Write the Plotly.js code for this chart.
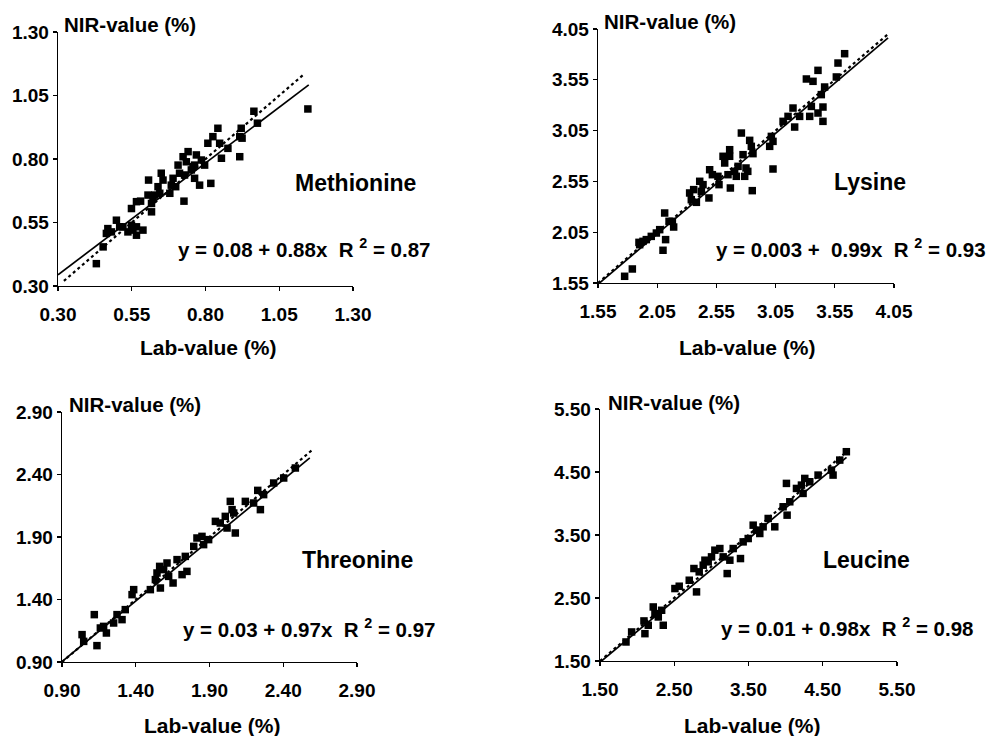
<!DOCTYPE html>
<html>
<head>
<meta charset="utf-8">
<script src="https://cdn.plot.ly/plotly-3.0.1.min.js"></script>
<style>html,body{margin:0;padding:0;background:#fff;}#chart{width:995px;height:736px;}</style>
</head>
<body>
<div id="chart"></div>
<script>
// ---- Data ----
var metLab = [1.147,0.964,0.976,0.921,0.916,0.842,0.825,0.848,0.808,0.916,0.876,0.854,0.818,0.741,0.769,0.786,0.763,0.797,0.724,0.707,0.712,0.729,0.752,0.780,0.763,0.690,0.684,0.727,0.679,0.650,0.656,0.607,0.639,0.628,0.617,0.645,0.617,0.580,0.566,0.549,0.588,0.566,0.554,0.537,0.520,0.498,0.549,0.469,0.481,0.464,0.453,0.430,0.566,0.509,0.924,0.735,0.758,0.699,0.622,0.605];
var metNir = [0.997,0.988,0.941,0.921,0.888,0.921,0.888,0.862,0.862,0.809,0.842,0.803,0.704,0.829,0.816,0.796,0.776,0.776,0.809,0.776,0.744,0.737,0.757,0.697,0.724,0.724,0.697,0.634,0.665,0.744,0.717,0.717,0.691,0.658,0.625,0.665,0.592,0.634,0.632,0.605,0.520,0.500,0.520,0.513,0.533,0.559,0.539,0.526,0.513,0.507,0.454,0.388,0.533,0.533,0.882,0.789,0.770,0.691,0.645,0.658];

var lysLab = [1.775,1.840,1.902,1.930,1.958,1.896,2.000,2.043,2.071,2.099,2.121,2.113,2.150,2.189,2.178,2.324,2.358,2.338,2.381,2.409,2.437,2.423,2.487,2.493,2.516,2.563,2.572,2.606,2.620,2.662,2.662,2.668,2.648,2.704,2.733,2.761,2.775,2.789,2.800,2.815,2.831,2.845,2.859,2.853,2.718,3.014,3.028,3.028,3.000,3.113,3.155,3.197,3.211,3.253,3.310,3.352,3.338,3.366,3.408,3.436,3.450,3.450,3.464,3.563,3.577,3.633,3.408];
var lysNir = [1.616,1.688,1.927,1.960,1.977,1.950,2.009,2.042,2.075,1.872,1.977,2.239,2.157,2.101,2.157,2.436,2.469,2.370,2.344,2.551,2.518,2.452,2.387,2.665,2.616,2.600,2.518,2.797,2.731,2.862,2.797,2.485,2.616,2.649,2.698,3.026,2.813,2.600,2.682,2.649,2.954,2.895,2.823,2.459,2.600,2.993,2.944,2.672,2.895,3.141,3.190,3.272,3.085,3.190,3.558,3.288,3.190,3.535,3.643,3.404,3.141,3.282,3.479,3.578,3.715,3.807,3.223];

var thrLab = [1.036,1.047,1.119,1.137,1.160,1.182,1.201,1.250,1.273,1.307,1.329,1.386,1.375,1.499,1.533,1.544,1.567,1.589,1.612,1.623,1.653,1.680,1.714,1.736,1.793,1.815,1.849,1.860,1.894,1.940,1.973,2.007,2.041,2.019,2.064,2.075,2.053,2.143,2.199,2.245,2.227,2.267,2.335,2.403,2.482,1.747,1.562];
var thrNir = [1.119,1.065,1.279,1.031,1.172,1.185,1.132,1.212,1.279,1.239,1.319,1.479,1.439,1.479,1.559,1.612,1.492,1.639,1.692,1.585,1.532,1.719,1.599,1.745,1.825,1.892,1.905,1.839,1.879,2.025,2.012,2.065,2.185,1.972,2.092,1.932,2.119,2.185,2.172,2.119,2.273,2.239,2.332,2.372,2.452,1.625,1.665];

var leuLab = [1.850,1.926,2.092,2.105,2.150,2.217,2.240,2.285,2.352,2.330,2.509,2.567,2.702,2.800,2.836,2.890,2.957,3.002,3.047,3.114,3.159,3.213,3.249,3.294,3.392,3.428,3.496,3.563,3.608,3.652,3.697,3.765,3.854,3.966,4.020,4.011,4.056,4.146,4.213,4.258,4.235,4.325,4.437,4.617,4.639,4.729,4.818,2.765,2.913];
var leuNir = [1.802,1.961,2.136,1.934,2.067,2.358,2.252,2.199,2.067,2.305,2.650,2.687,2.782,2.597,2.915,3.021,3.074,3.153,3.259,3.285,3.153,2.888,3.100,3.285,3.126,3.391,3.444,3.656,3.577,3.524,3.630,3.762,3.630,3.948,3.815,4.319,4.027,4.239,4.292,4.398,4.160,4.345,4.451,4.530,4.451,4.689,4.822,2.968,3.100];

// regression coefficients [intercept, slope] as printed on the chart
var metFit = [0.08, 0.88], lysFit = [0.003, 0.99], thrFit = [0.03, 0.97], leuFit = [0.01, 0.98];
// extents of the drawn lines (Lab-value)
var metFitX = [0.30, 1.15], metIdX = [0.32, 1.13];
var lysFitX = [1.55, 4.00], lysIdX = [1.55, 4.00];
var thrFitX = [0.90, 2.58], thrIdX = [0.90, 2.60];
var leuFitX = [1.50, 4.82], leuIdX = [1.50, 4.82];

var names = ["Methionine", "Lysine", "Threonine", "Leucine"];
var equations = [
  "y = 0.08 + 0.88x&nbsp;&nbsp;R <sup>2</sup> = 0.87",
  "y = 0.003 +&nbsp;&nbsp;0.99x&nbsp;&nbsp;R <sup>2</sup> = 0.93",
  "y = 0.03 + 0.97x&nbsp;&nbsp;R <sup>2</sup> = 0.97",
  "y = 0.01 + 0.98x&nbsp;&nbsp;R <sup>2</sup> = 0.98"
];
var metTicks = [0.30, 0.55, 0.80, 1.05, 1.30];
var lysTicks = [1.55, 2.05, 2.55, 3.05, 3.55, 4.05];
var thrTicks = [0.90, 1.40, 1.90, 2.40, 2.90];
var leuTicks = [1.50, 2.50, 3.50, 4.50, 5.50];

// ---- Layout helpers ----
var W = 995, H = 736;
function px(x) { return x / W; }
function py(y) { return 1 - y / H; }
var FONT = "Liberation Sans, Arial, Helvetica, sans-serif";

var panels = [
  {lab: metLab, nir: metNir, fit: metFit, fitX: metFitX, idX: metIdX, ticks: metTicks, box: [58, 32, 353, 286]},
  {lab: lysLab, nir: lysNir, fit: lysFit, fitX: lysFitX, idX: lysIdX, ticks: lysTicks, box: [598, 29, 894, 283]},
  {lab: thrLab, nir: thrNir, fit: thrFit, fitX: thrFitX, idX: thrIdX, ticks: thrTicks, box: [62, 412, 357, 662]},
  {lab: leuLab, nir: leuNir, fit: leuFit, fitX: leuFitX, idX: leuIdX, ticks: leuTicks, box: [600, 409, 897, 661]}
];
// text anchor positions (pixels)
var nirPos = [[62, 24], [602, 21], [67, 404], [606, 402]];
var labPos = [[208, 347], [747, 347], [212, 725], [752, 725]];
var namePos = [[355, 183], [870, 182], [357, 560], [866, 560]];
var eqPos = [[176, 248], [714, 248], [181, 628], [719, 627]];

var traces = [];
var layout = {
  width: W, height: H,
  margin: {l: 0, r: 0, t: 0, b: 0},
  paper_bgcolor: "#fff", plot_bgcolor: "rgba(0,0,0,0)",
  showlegend: false,
  font: {family: FONT, color: "#000", size: 19, weight: "bold"},
  annotations: []
};

panels.forEach(function (p, i) {
  var n = i + 1;
  var xa = n === 1 ? "x" : "x" + n, ya = n === 1 ? "y" : "y" + n;
  var fx = p.fitX, ix = p.idX;
  traces.push({x: ix, y: ix, xaxis: xa, yaxis: ya, mode: "lines",
    line: {color: "#000", width: 2.2, dash: "dot"}, hoverinfo: "skip"});
  traces.push({x: fx, y: [p.fit[0] + p.fit[1] * fx[0], p.fit[0] + p.fit[1] * fx[1]],
    xaxis: xa, yaxis: ya, mode: "lines", line: {color: "#000", width: 1.7}, hoverinfo: "skip"});
  traces.push({x: p.lab, y: p.nir, xaxis: xa, yaxis: ya, mode: "markers",
    marker: {symbol: "square", size: 7.5, color: "#000"}, cliponaxis: false});

  var b = p.box;
  var rng = [p.ticks[0], p.ticks[p.ticks.length - 1]];
  var common = {
    range: rng, tickmode: "array", tickvals: p.ticks,
    ticktext: p.ticks.map(function (v) { return v.toFixed(2); }),
    showgrid: false, zeroline: false, showline: true, linecolor: "#000", linewidth: 1.3,
    ticks: "outside", ticklen: 4, tickwidth: 1.3, tickcolor: "#000",
    tickfont: {family: FONT, size: 19, color: "#000", weight: "bold"},
    fixedrange: true
  };
  layout["xaxis" + (n === 1 ? "" : n)] = Object.assign({}, common, {
    domain: [px(b[0]), px(b[2])], anchor: ya, ticklabelstandoff: 7
  });
  layout["yaxis" + (n === 1 ? "" : n)] = Object.assign({}, common, {
    domain: [py(b[3]), py(b[1])], anchor: xa, ticklabelstandoff: 0
  });

  layout.annotations.push({xref: "paper", yref: "paper", x: px(nirPos[i][0]), y: py(nirPos[i][1]),
    xanchor: "left", yanchor: "middle", text: "NIR-value (%)", showarrow: false,
    font: {family: FONT, size: 20.5, color: "#000", weight: "bold"}});
  layout.annotations.push({xref: "paper", yref: "paper", x: px(labPos[i][0]), y: py(labPos[i][1]),
    xanchor: "center", yanchor: "middle", text: "Lab-value (%)", showarrow: false,
    font: {family: FONT, size: 21, color: "#000", weight: "bold"}});
  layout.annotations.push({xref: "paper", yref: "paper", x: px(namePos[i][0]), y: py(namePos[i][1]),
    xanchor: "center", yanchor: "middle", text: names[i], showarrow: false,
    font: {family: FONT, size: 23, color: "#000", weight: "bold"}});
  layout.annotations.push({xref: "paper", yref: "paper", x: px(eqPos[i][0]), y: py(eqPos[i][1]),
    xanchor: "left", yanchor: "middle", text: equations[i], showarrow: false,
    font: {family: FONT, size: 20.5, color: "#000", weight: "bold"}});
});

Plotly.newPlot("chart", traces, layout, {staticPlot: true, displayModeBar: false});
</script>
</body>
</html>
